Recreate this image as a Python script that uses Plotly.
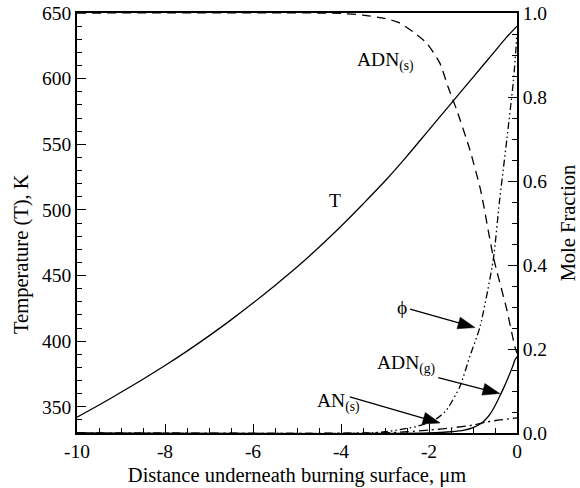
import plotly.graph_objects as go

# ---------------- data ----------------
t_x = [-10, -9.5, -9, -8.5, -8, -7.5, -7, -6.5, -6, -5.5, -5, -4.5, -4, -3.5, -3,
       -2.5, -2, -1.5, -1, -0.5, -0.25, 0]
t_y = [342, 351.3, 361, 371, 381.4, 392.4, 404, 416.2, 429, 442.4, 456.4, 471.5, 487.5,
       504.5, 522, 541, 561, 581, 601, 621, 631, 640]

adns_x = [-10, -4.5, -4, -3.5, -3.0, -2.66, -2.36, -2.05, -1.75, -1.57, -1.37, -1.07,
          -0.82, -0.54, -0.23, -0.05, 0]
adns_y = [1.0, 1.0, 0.999, 0.995, 0.987, 0.976, 0.955, 0.928, 0.88, 0.825, 0.769, 0.674,
          0.575, 0.42, 0.293, 0.206, 0.19]

phi_x = [-10, -3.4, -3.0, -2.66, -2.3, -2.05, -1.8, -1.6, -1.3, -1.07, -0.84, -0.54,
         -0.4, -0.23, -0.08, 0]
phi_y = [0, 0, 0.003, 0.008, 0.015, 0.023, 0.036, 0.055, 0.11, 0.183, 0.253, 0.412,
         0.55, 0.70, 0.84, 0.95]

ans_x = [-10, -3.2, -2.5, -2, -1.5, -1, -0.7, -0.4, 0]
ans_y = [0, 0, 0.003, 0.007, 0.012, 0.019, 0.026, 0.031, 0.036]

adng_x = [-10, -2.0, -1.5, -1.2, -1.0, -0.8, -0.7, -0.6, -0.5, -0.4, -0.3, -0.2, -0.1,
          -0.05, 0]
adng_y = [0, 0, 0.003, 0.007, 0.013, 0.024, 0.034, 0.047, 0.065, 0.086, 0.108, 0.132,
          0.158, 0.173, 0.182]

x_ticks = [-10, -8, -6, -4, -2, 0]
x_ticktext = ["-10", "-8", "-6", "-4", "-2", "0"]
t_ticks = [350, 400, 450, 500, 550, 600, 650]
mf_ticks = [0.0, 0.2, 0.4, 0.6, 0.8, 1.0]
mf_ticktext = ["0.0", "0.2", "0.4", "0.6", "0.8", "1.0"]

# ---------------- layout constants ----------------
W, H = 580, 488
ML, MR, MT, MB = 77, 63, 13, 55
X_RANGE = [-10, 0]
T_RANGE = [330, 650]
MF_RANGE = [0, 1]
FONT = "Liberation Serif, Times New Roman, serif"
FS = 19.5
FT = 20.5

fig = go.Figure()
line = dict(color="black", width=1.3)
fig.add_trace(go.Scatter(x=t_x, y=t_y, mode="lines", line=dict(line, shape="spline", smoothing=0.8),
                         yaxis="y", showlegend=False))
fig.add_trace(go.Scatter(x=adns_x, y=adns_y, mode="lines",
                         line=dict(line, dash="9px,6px", shape="spline", smoothing=0.6),
                         yaxis="y2", showlegend=False))
fig.add_trace(go.Scatter(x=phi_x, y=phi_y, mode="lines",
                         line=dict(line, dash="7px,3px,1.5px,3px,1.5px,3px", shape="spline", smoothing=0.6),
                         yaxis="y2", showlegend=False))
fig.add_trace(go.Scatter(x=ans_x, y=ans_y, mode="lines",
                         line=dict(line, dash="9px,4px,2px,4px", shape="spline", smoothing=0.6),
                         yaxis="y2", showlegend=False))
fig.add_trace(go.Scatter(x=adng_x, y=adng_y, mode="lines",
                         line=dict(line, shape="spline", smoothing=0.8),
                         yaxis="y2", showlegend=False))

# ---------------- arrows (line + filled head) ----------------
PW = W - ML - MR
PH = H - MT - MB

def to_px(x, m):
    return (ML + (x - X_RANGE[0]) / (X_RANGE[1] - X_RANGE[0]) * PW,
            MT + PH - (m - MF_RANGE[0]) / (MF_RANGE[1] - MF_RANGE[0]) * PH)

def to_data(px, py):
    return (X_RANGE[0] + (px - ML) / PW * (X_RANGE[1] - X_RANGE[0]),
            MF_RANGE[0] + (MT + PH - py) / PH * (MF_RANGE[1] - MF_RANGE[0]))

arrows = [  # (tail x, tail mf, tip x, tip mf)
    (-2.43, 0.295, -0.955, 0.251),   # phi
    (-1.79, 0.132, -0.39, 0.094),    # ADN(g)
    (-3.80, 0.086, -1.75, 0.024),    # AN(s)
]
HEAD_L, HEAD_HW = 17, 6
for tx, tm, hx, hm in arrows:
    x0, y0 = to_px(tx, tm)
    x1, y1 = to_px(hx, hm)
    dx, dy = x1 - x0, y1 - y0
    L = (dx * dx + dy * dy) ** 0.5
    ux, uy = dx / L, dy / L
    bx, by = x1 - HEAD_L * ux, y1 - HEAD_L * uy
    c1 = to_data(bx - HEAD_HW * uy, by + HEAD_HW * ux)
    c2 = to_data(bx + HEAD_HW * uy, by - HEAD_HW * ux)
    b = to_data(bx + 2 * ux, by + 2 * uy)
    fig.add_shape(type="line", xref="x", yref="y2", x0=tx, y0=tm, x1=b[0], y1=b[1],
                  line=dict(color="black", width=1.3))
    fig.add_shape(type="path", xref="x", yref="y2",
                  path=f"M {hx},{hm} L {c1[0]},{c1[1]} L {c2[0]},{c2[1]} Z",
                  fillcolor="black", line=dict(color="black", width=0.5))

# ---------------- labels ----------------
labels = [  # (text, x, y, axis, xanchor)
    ("ADN<sub>(s)</sub>", -3.68, 0.885, "y2", "left"),
    ("T", -4.14, 507, "y", "center"),
    ("ϕ", -2.61, 0.298, "y2", "center"),
    ("ADN<sub>(g)</sub>", -3.23, 0.162, "y2", "left"),
    ("AN<sub>(s)</sub>", -4.59, 0.073, "y2", "left"),
]
for txt, x, y, ax, xa in labels:
    fig.add_annotation(text=txt, x=x, y=y, xref="x", yref=ax, showarrow=False,
                       xanchor=xa, yanchor="middle",
                       font=dict(family=FONT, size=FS, color="black"))

# left axis title, placed as in the reference (slightly below centre)
fig.add_annotation(text="Temperature (T), K", textangle=-90,
                   x=(22 - ML) / PW, y=(H - MB - 254) / PH,
                   xref="paper", yref="paper", showarrow=False,
                   xanchor="center", yanchor="middle",
                   font=dict(family=FONT, size=FT, color="black"))

axis_common = dict(showline=True, linecolor="black", linewidth=1.5, ticks="inside",
                   tickcolor="black", tickwidth=1.2, showgrid=False, zeroline=False,
                   tickfont=dict(family=FONT, size=FS, color="black"))

fig.update_layout(
    width=W, height=H,
    margin=dict(l=ML, r=MR, t=MT, b=MB, autoexpand=False),
    paper_bgcolor="white", plot_bgcolor="white",
    font=dict(family=FONT, size=FS, color="black"),
    xaxis=dict(axis_common, range=X_RANGE, tickvals=x_ticks, ticktext=x_ticktext,
               ticklen=9, mirror=True,
               minor=dict(dtick=0.5, ticklen=5, ticks="inside", tickcolor="black"),
               title=dict(text="Distance underneath burning surface, μm", standoff=6,
                          font=dict(family=FONT, size=FT))),
    yaxis=dict(axis_common, range=T_RANGE, tickvals=t_ticks, ticklen=9,
               minor=dict(dtick=10, ticklen=5, ticks="inside", tickcolor="black")),
    yaxis2=dict(axis_common, range=MF_RANGE, tickvals=mf_ticks, ticktext=mf_ticktext,
                ticklen=9, overlaying="y", side="right",
                minor=dict(dtick=0.05, ticklen=5, ticks="inside", tickcolor="black"),
                title=dict(text="Mole Fraction", standoff=14,
                           font=dict(family=FONT, size=FT))),
)

fig.write_html("out.html")
